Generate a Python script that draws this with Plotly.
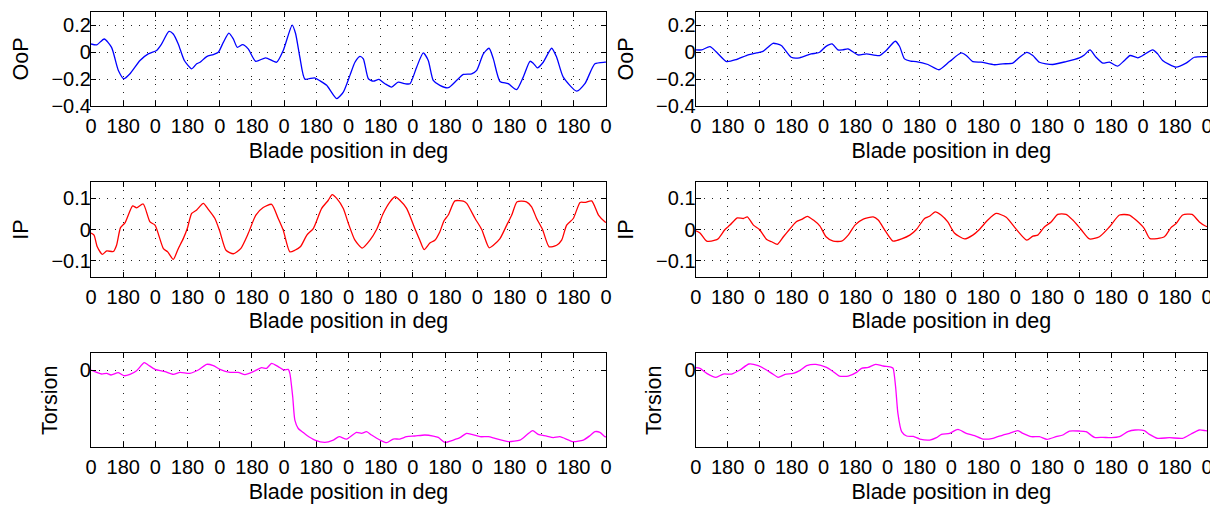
import plotly.graph_objects as go

# ---------------- data ----------------
# x values: blade position, cumulative degrees over 8 revolutions (0..2880)
oop_left_deg = [0, 32, 74, 115, 153, 184, 218, 274, 320, 367, 395, 436, 460, 488, 522, 563, 591, 610, 647, 684,
                712, 740, 771, 796, 818, 848, 879, 921, 977, 1038, 1075, 1125, 1144, 1168, 1196, 1250, 1280, 1318,
                1374, 1411, 1448, 1476, 1504, 1523, 1551, 1579, 1610, 1644, 1681, 1718, 1756, 1784, 1821, 1858,
                1886, 1914, 1951, 1998, 2045, 2082, 2129, 2157, 2194, 2226, 2250, 2287, 2333, 2380, 2417, 2455,
                2473, 2496, 2529, 2576, 2604, 2641, 2716, 2762, 2818, 2874, 2880]
oop_left_val = [0.062, 0.055, 0.099, 0.037, -0.135, -0.197, -0.16, -0.061, -0.012, 0.013, 0.062, 0.155, 0.136,
                0.062, -0.061, -0.123, -0.086, -0.074, -0.032, -0.017, 0.0, 0.074, 0.143, 0.099, 0.037, 0.057,
                0.025, -0.067, -0.041, -0.074, 0.013, 0.203, 0.14, -0.037, -0.2, -0.19, -0.212, -0.246, -0.345,
                -0.296, -0.172, -0.074, -0.03, -0.049, -0.197, -0.215, -0.202, -0.234, -0.259, -0.222, -0.234,
                -0.234, -0.111, -0.005, -0.061, -0.209, -0.246, -0.264, -0.209, -0.165, -0.16, -0.135, -0.012,
                0.03, -0.049, -0.217, -0.234, -0.278, -0.185, -0.067, -0.081, -0.116, -0.074, 0.03, -0.037,
                -0.185, -0.289, -0.234, -0.086, -0.074, -0.073]

oop_right_deg = [0, 34, 80, 118, 174, 229, 285, 342, 379, 407, 435, 482, 538, 585, 650, 679, 698, 732, 768, 801,
                 827, 858, 914, 961, 1036, 1073, 1124, 1148, 1176, 1210, 1242, 1308, 1370, 1430, 1496, 1524, 1561,
                 1608, 1683, 1730, 1786, 1824, 1865, 1899, 1936, 2011, 2086, 2161, 2189, 2221, 2255, 2293, 2330,
                 2377, 2415, 2447, 2490, 2518, 2574, 2602, 2630, 2706, 2762, 2809, 2871, 2880]
oop_right_val = [0.018, 0.018, 0.042, 0.0, -0.069, -0.054, -0.024, -0.005, 0.007, 0.037, 0.067, 0.05, -0.037,
                 -0.041, -0.012, -0.007, 0.0, 0.042, 0.062, 0.018, 0.018, 0.025, -0.02, -0.012, -0.024, 0.013,
                 0.082, 0.045, -0.049, -0.066, -0.069, -0.091, -0.13, -0.069, -0.005, -0.024, -0.069, -0.074,
                 -0.093, -0.086, -0.081, -0.037, 0.0, -0.024, -0.074, -0.091, -0.069, -0.041, -0.02, 0.018,
                 -0.037, -0.081, -0.074, -0.103, -0.061, -0.024, -0.041, -0.024, 0.018, -0.012, -0.061, -0.111,
                 -0.081, -0.037, -0.032, -0.032]

ip_left_deg = [0, 17, 35, 63, 88, 125, 143, 165, 190, 233, 255, 292, 330, 358, 405, 429, 460, 488, 516, 539, 563,
               591, 628, 656, 693, 721, 755, 796, 837, 879, 922, 963, 1010, 1047, 1075, 1112, 1140, 1172, 1208,
               1243, 1290, 1327, 1349, 1374, 1411, 1439, 1476, 1517, 1560, 1597, 1634, 1672, 1700, 1727, 1765,
               1811, 1839, 1863, 1895, 1923, 1951, 1974, 1998, 2035, 2082, 2101, 2148, 2185, 2226, 2250, 2287,
               2325, 2353, 2383, 2435, 2464, 2492, 2525, 2562, 2604, 2632, 2660, 2697, 2735, 2762, 2800, 2838,
               2875, 2880]
ip_left_val = [-0.011, -0.018, -0.055, -0.079, -0.068, -0.07, -0.05, 0.006, 0.021, 0.075, 0.069, 0.081, 0.024,
               0.014, -0.061, -0.071, -0.095, -0.061, -0.029, 0.004, 0.051, 0.062, 0.083, 0.064, 0.035, -0.007,
               -0.066, -0.077, -0.061, -0.013, 0.046, 0.07, 0.08, 0.035, -0.002, -0.071, -0.066, -0.054, -0.017,
               0.003, 0.067, 0.093, 0.111, 0.099, 0.067, 0.02, -0.034, -0.059, -0.034, 0.0, 0.051, 0.088, 0.104,
               0.093, 0.067, 0.003, -0.034, -0.064, -0.043, -0.034, -0.007, 0.028, 0.046, 0.091, 0.09, 0.083,
               0.035, 0.0, -0.058, -0.05, -0.029, 0.014, 0.046, 0.088, 0.088, 0.072, 0.035, 0.0, -0.055, -0.05,
               -0.034, 0.014, 0.035, 0.086, 0.086, 0.091, 0.046, 0.024, 0.022]

ip_right_deg = [0, 24, 62, 109, 127, 165, 193, 234, 268, 291, 325, 359, 400, 428, 460, 494, 528, 565, 597, 629,
                663, 700, 734, 775, 822, 859, 897, 944, 1000, 1028, 1071, 1112, 1160, 1206, 1243, 1289, 1317,
                1349, 1382, 1420, 1457, 1514, 1561, 1598, 1645, 1692, 1749, 1805, 1865, 1899, 1927, 1964, 2002,
                2039, 2086, 2124, 2171, 2218, 2274, 2330, 2387, 2443, 2480, 2527, 2559, 2640, 2677, 2706, 2743,
                2796, 2837, 2871, 2880]
ip_right_val = [-0.004, -0.011, -0.037, -0.034, -0.029, 0.0, 0.014, 0.037, 0.035, 0.04, 0.014, 0.0, -0.032,
                -0.039, -0.047, -0.023, 0.0, 0.024, 0.032, 0.042, 0.03, 0.011, -0.023, -0.037, -0.037, -0.018,
                0.014, 0.033, 0.04, 0.03, -0.007, -0.037, -0.03, -0.018, 0.0, 0.035, 0.042, 0.056, 0.046, 0.024,
                -0.011, -0.03, -0.018, 0.0, 0.03, 0.051, 0.039, 0.001, -0.034, -0.021, -0.018, 0.008, 0.024,
                0.048, 0.048, 0.03, 0.0, -0.03, -0.023, 0.008, 0.046, 0.046, 0.03, 0.003, -0.029, -0.023, 0.006,
                0.019, 0.046, 0.048, 0.024, 0.011, 0.009]

tor_left_deg = [0, 32, 60, 88, 112, 153, 184, 218, 255, 298, 320, 358, 414, 460, 497, 553, 600, 647, 684, 721,
                777, 823, 861, 908, 954, 982, 1010, 1047, 1079, 1103, 1112, 1128, 1140, 1159, 1185, 1206, 1252,
                1308, 1355, 1388, 1429, 1485, 1513, 1541, 1569, 1616, 1653, 1690, 1727, 1765, 1811, 1867, 1914,
                1942, 1979, 2026, 2063, 2100, 2129, 2175, 2222, 2259, 2333, 2399, 2436, 2470, 2501, 2548, 2585,
                2622, 2697, 2753, 2790, 2818, 2846, 2874, 2880]
tor_left_val = [0.0, -0.028, -0.048, -0.04, -0.06, -0.032, -0.068, -0.052, -0.008, 0.088, 0.06, 0.008, -0.02,
                -0.052, -0.028, -0.04, 0.0, 0.068, 0.052, 0.008, -0.028, -0.028, -0.056, -0.02, 0.028, 0.02,
                0.08, 0.04, 0.0, 0.008, -0.04, -0.32, -0.6, -0.7, -0.745, -0.78, -0.838, -0.866, -0.838, -0.798,
                -0.826, -0.746, -0.758, -0.738, -0.778, -0.838, -0.87, -0.826, -0.826, -0.798, -0.79, -0.778,
                -0.79, -0.806, -0.866, -0.838, -0.81, -0.758, -0.77, -0.798, -0.798, -0.818, -0.858, -0.838,
                -0.778, -0.726, -0.77, -0.79, -0.81, -0.798, -0.858, -0.838, -0.786, -0.738, -0.746, -0.798,
                -0.8]

tor_right_deg = [0, 24, 62, 114, 155, 202, 249, 300, 352, 399, 428, 465, 503, 550, 585, 625, 677, 737, 775, 809,
                 859, 906, 934, 972, 1013, 1056, 1103, 1112, 1126, 1139, 1160, 1188, 1226, 1262, 1318, 1356, 1384,
                 1430, 1477, 1524, 1571, 1618, 1674, 1730, 1768, 1815, 1843, 1890, 1936, 1979, 2030, 2068, 2105,
                 2161, 2199, 2246, 2293, 2340, 2387, 2434, 2475, 2527, 2556, 2602, 2668, 2743, 2790, 2837, 2871,
                 2880]
tor_right_val = [0.028, 0.02, -0.04, -0.088, -0.048, -0.048, 0.0, 0.072, 0.052, 0.0, -0.04, -0.088, -0.052,
                 -0.04, -0.008, 0.052, 0.068, 0.032, -0.02, -0.072, -0.072, -0.028, 0.02, 0.032, 0.068, 0.048,
                 0.032, 0.02, -0.2, -0.52, -0.738, -0.79, -0.795, -0.826, -0.838, -0.81, -0.77, -0.758, -0.71,
                 -0.758, -0.786, -0.826, -0.818, -0.778, -0.758, -0.726, -0.758, -0.798, -0.798, -0.83, -0.798,
                 -0.778, -0.73, -0.73, -0.738, -0.806, -0.806, -0.81, -0.798, -0.738, -0.718, -0.726, -0.77,
                 -0.818, -0.81, -0.818, -0.766, -0.718, -0.726, -0.728]

x_tickvals = list(range(0, 2881, 180))
x_ticktext = ["0" if (v // 180) % 2 == 0 else "180" for v in x_tickvals]
x_title = "Blade position in deg"
row_titles = ["OoP", "IP", "Torsion"]
row_ranges = [[-0.4, 0.3], [-0.15, 0.15], [-0.925, 0.2]]
row_ticks = [[-0.4, -0.2, 0, 0.2], [-0.1, 0, 0.1], [0]]
row_colors = ["#0000ff", "#ff0000", "#ff00ff"]

series = [
    [(oop_left_deg, oop_left_val), (oop_right_deg, oop_right_val)],
    [(ip_left_deg, ip_left_val), (ip_right_deg, ip_right_val)],
    [(tor_left_deg, tor_left_val), (tor_right_deg, tor_right_val)],
]

# ---------------- layout geometry ----------------
# The page body has an 8px default margin, so the figure is offset by 8px.
OFF = 8
W, H = 1210, 497
col_px = [(91, 606), (695.7, 1207)]          # screen pixels
row_px = [(12, 106), (182.3, 276.7), (353.3, 447.3)]

FONT = "Liberation Sans, Arial, Helvetica, sans-serif"
fig = go.Figure()
layout = dict(
    width=W, height=H,
    margin=dict(l=0, r=0, t=0, b=0),
    paper_bgcolor="white", plot_bgcolor="white",
    showlegend=False,
    font=dict(family=FONT, size=20, color="black"),
)

idx = 0
for r in range(3):
    for c in range(2):
        idx += 1
        xs, ys = series[r][c]
        xa = "x" if idx == 1 else f"x{idx}"
        ya = "y" if idx == 1 else f"y{idx}"
        fig.add_trace(go.Scatter(
            x=xs, y=ys, mode="lines", xaxis=xa, yaxis=ya,
            line=dict(color=row_colors[r], width=1.3, shape="spline", smoothing=0.6),
            hoverinfo="skip",
        ))
        x0, x1 = col_px[c]
        t0, t1 = row_px[r]
        common = dict(
            showline=True, linecolor="black", linewidth=1.2, mirror="allticks",
            ticks="inside", ticklen=5, tickwidth=1, tickcolor="black",
            showgrid=True, gridcolor="#222222", gridwidth=1, griddash="1px,7px",
            zeroline=False, automargin=False,
            tickfont=dict(family=FONT, size=20, color="black"),
        )
        layout["xaxis" if idx == 1 else f"xaxis{idx}"] = dict(
            common,
            domain=[(x0 - OFF) / W, (x1 - OFF) / W],
            anchor=ya,
            range=[0, 2880],
            tickmode="array", tickvals=x_tickvals, ticktext=x_ticktext,
            ticklabelstandoff=2,
            title=dict(text=x_title, font=dict(family=FONT, size=21.5), standoff=6),
        )
        layout["yaxis" if idx == 1 else f"yaxis{idx}"] = dict(
            common,
            domain=[1 - (t1 - OFF) / H, 1 - (t0 - OFF) / H],
            anchor=xa,
            range=row_ranges[r],
            tickmode="array", tickvals=row_ticks[r],
            ticklabelstandoff=-5,
            title=dict(text=row_titles[r], font=dict(family=FONT, size=21.5), standoff=16),
        )

fig.update_layout(**layout)
fig.write_html("out.html")
